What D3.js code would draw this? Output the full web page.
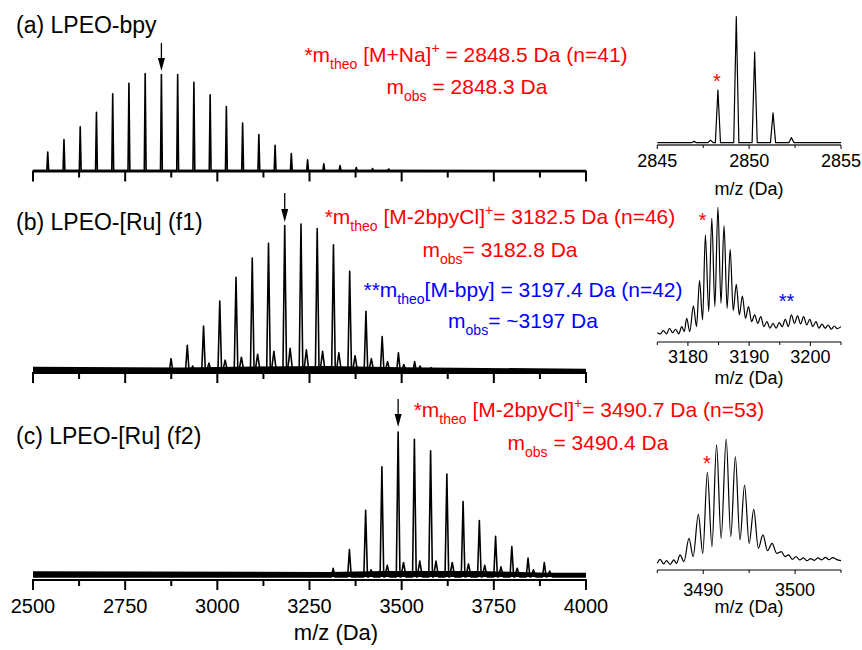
<!DOCTYPE html>
<html>
<head>
<meta charset="utf-8">
<script src="https://cdn.jsdelivr.net/npm/d3@7"></script>
<style>
  html, body { margin: 0; padding: 0; background: #fff; }
  svg text { font-family: "Liberation Sans", Arial, Helvetica, sans-serif; }
</style>
</head>
<body>
<script>
// ---------- MALDI-TOF spectra: peak lists (m/z in Da, relative intensity %) ----------

// (a) LPEO-bpy, [M+Na]+ series
const peaksA_mz  = [2540.0, 2584.0, 2628.1, 2672.1, 2716.2, 2760.2, 2804.3, 2848.3, 2892.4, 2936.4, 2980.5,
                    3024.5, 3068.6, 3112.6, 3156.7, 3200.7, 3244.8, 3288.8, 3332.9, 3376.9, 3421.0, 3465.0];
const peaksA_int = [19, 32, 45, 60, 79, 90, 100, 99, 99, 91, 78,
                    66, 49, 37, 26, 17.5, 11, 7, 5, 3, 2, 1.5];

// (b) LPEO-[Ru] (f1), [M-2bpyCl]+ series and weaker [M-bpy] series
const peaksB_mz  = [2874.5, 2918.5, 2962.6, 3006.6, 3050.7, 3094.7, 3138.8, 3182.8, 3226.9, 3270.9,
                    3315.0, 3359.0, 3403.1, 3447.1, 3491.2, 3535.2, 3579.3, 3623.3];
const peaksB_int = [9, 18, 31, 48, 64, 77, 87, 99, 100, 97,
                    86, 68, 41, 24, 13, 7, 3, 2];
const peaksB2_mz  = [2933.1, 2977.2, 3021.2, 3065.3, 3109.3, 3153.4, 3197.4, 3241.5, 3285.5, 3329.6, 3373.6, 3417.7, 3461.7, 3505.8, 3549.8];
const peaksB2_int = [4, 6, 8, 10, 12, 14, 16, 15, 14, 13, 11, 9, 7, 5, 4];

// (c) LPEO-[Ru] (f2)
const peaksC_mz  = [3314.2, 3358.3, 3402.3, 3446.4, 3490.4, 3534.5, 3578.5, 3622.6, 3666.6, 3710.7,
                    3754.7, 3798.8, 3842.8, 3886.9];
const peaksC_int = [6, 19, 46, 76, 100, 95, 87, 71, 52, 39, 28, 21, 13, 10];
const peaksC2_mz  = [3417.0, 3461.0, 3505.0, 3549.1, 3593.1, 3637.2, 3681.2, 3725.3, 3769.3, 3813.4, 3857.4, 3901.5];
const peaksC2_int = [5, 8, 10, 11, 11, 10, 9, 8, 7, 6, 5, 4];

// baseline noise envelopes (m/z, intensity %)
const noiseA = [[2500, 0.8], [3500, 0.8], [4000, 0.5]];
const noiseB = [[2500, 3.5], [2900, 3.0], [3100, 3.8], [3300, 4.0], [3500, 3.2], [4000, 2.2]];
const noiseC = [[2500, 4.0], [3300, 3.5], [3450, 4.2], [3700, 4.2], [3900, 3], [4000, 3]];

// axis ticks of the main m/z axis
const mainTicks = [2500, 2750, 3000, 3250, 3500, 3750, 4000];
const mainMinorTicks = [2625, 2875, 3125, 3375, 3625, 3875];

// zoomed isotope patterns
const insetA_pk  = [[2847.0, 1.5], [2847.9, 2.5], [2848.3, 42], [2849.3, 100], [2850.3, 72], [2851.3, 24], [2852.3, 4.5]];
const insetA_ticks = [2845, 2850, 2855];
const insetA_minor = [2847.5, 2852.5];

const insetB_trace = [
  [3175.0, 0.5], [3175.5, -0.5], [3176.0, 2.1], [3176.5, -0.5], [3177.0, 4.0], [3177.5, 0.5], [3178.0, 3.2],
  [3178.5, -0.5], [3179.0, 5.3], [3179.4, 1.3], [3179.8, 11.9], [3180.3, 1.3], [3180.9, 21.7], [3181.4, 5.3],
  [3181.9, 41.8], [3182.4, 10.6], [3182.85, 78.0], [3183.4, 17.2], [3183.9, 91.3], [3184.4, 21.2], [3184.9, 100],
  [3185.4, 23.8], [3185.9, 85.4], [3186.4, 19.8], [3186.9, 66.7], [3187.4, 18.0], [3187.9, 38.9], [3188.4, 14.6],
  [3188.9, 29.6], [3189.4, 11.9], [3189.9, 21.2], [3190.4, 9.3], [3190.9, 14.6], [3191.4, 7.9], [3191.9, 13.2],
  [3192.4, 5.3], [3192.9, 9.3], [3193.4, 4.0], [3193.9, 7.9], [3194.4, 4.0], [3194.9, 8.5], [3195.4, 5.3],
  [3195.9, 11.1], [3196.4, 5.3], [3196.9, 14.6], [3197.4, 7.9], [3197.9, 13.8], [3198.4, 7.4], [3198.9, 13.2],
  [3199.4, 6.6], [3199.9, 11.1], [3200.4, 5.3], [3200.9, 9.3], [3201.4, 4.0], [3201.9, 7.4], [3202.4, 4.0],
  [3202.9, 6.6], [3203.4, 3.2], [3203.9, 5.8], [3204.4, 3.7], [3205.0, 5.3]
];
const insetB_ticks = [3180, 3190, 3200];
const insetB_minor = [3175, 3185, 3195, 3205];

const insetC_trace = [
  [3485.0, 0], [3485.3, 3.2], [3485.7, -0.5], [3486.0, 2.1], [3486.4, -0.8], [3486.8, 2.7], [3487.1, 0],
  [3487.47, 6.7], [3487.9, 1.3], [3488.45, 20.1], [3488.9, 5.4], [3489.47, 39.4], [3489.95, 8.0],
  [3490.45, 73.2], [3490.95, 13.4], [3491.45, 95.2], [3491.95, 20.1], [3492.5, 100], [3493.0, 21.4],
  [3493.5, 85.8], [3494.0, 18.8], [3494.5, 63.0], [3495.0, 16.1], [3495.5, 43.4], [3496.0, 12.1],
  [3496.5, 22.8], [3497.0, 10.2], [3497.5, 16.1], [3498.0, 8.0], [3498.5, 9.4], [3498.9, 5.4], [3499.3, 6.7],
  [3499.7, 3.2], [3500.1, 5.4], [3500.5, 2.7], [3500.9, 4.3], [3501.3, 2.1], [3501.7, 3.8], [3502.1, 2.4],
  [3502.5, 4.3], [3502.9, 2.7], [3503.3, 4.8], [3503.7, 2.9], [3504.1, 4.6], [3504.5, 3.2], [3505.0, 2.1]
];
const insetC_ticks = [3490, 3500];
const insetC_minor = [3485, 3495, 3505];

// ---------- drawing ----------
const W = 862, H = 650;
const svg = d3.select("body").append("svg").attr("width", W).attr("height", H);

const x = d3.scaleLinear().domain([2500, 4000]).range([33, 586]);

// turn a peak list into a stick-like trace along the baseline
function spikes(mz, inten, halfWidth, extra) {
  let pk = mz.map((m, i) => [m, inten[i], halfWidth]);
  if (extra) pk = pk.concat(extra[0].map((m, i) => [m, extra[1][i], halfWidth * 1.4]));
  pk.sort((a, b) => a[0] - b[0]);
  const pts = [[2500, 0]];
  pk.forEach(([m, h, w]) => { pts.push([m - w, 0], [m, h], [m + w, 0]); });
  pts.push([4000, 0]);
  return pts;
}

function mainPanel(cfg) {
  const y = d3.scaleLinear().domain([0, 100]).range([cfg.base, cfg.base - cfg.height]);
  const g = svg.append("g");
  // noise band
  g.append("path")
    .datum(cfg.noise)
    .attr("d", d3.area().x(d => x(d[0])).y0(y(0)).y1(d => y(d[1])))
    .attr("fill", "#000");
  g.append("path")
    .datum(spikes(cfg.mz, cfg.int, cfg.hw, cfg.extra))
    .attr("d", d3.line().x(d => x(d[0])).y(d => y(d[1])))
    .attr("fill", "none").attr("stroke", "#000").attr("stroke-width", 1.6)
    .attr("stroke-linejoin", "round");
  // axis
  const ax = g.append("g").attr("transform", `translate(0,${cfg.axisY})`);
  ax.append("line").attr("x1", x(2500) - 1).attr("x2", x(4000) + 1)
    .attr("stroke", "#000").attr("stroke-width", 2);
  ax.selectAll("line.maj").data(mainTicks).join("line").attr("class", "maj")
    .attr("x1", d => x(d)).attr("x2", d => x(d)).attr("y1", 0).attr("y2", 10)
    .attr("stroke", "#000").attr("stroke-width", 2);
  ax.selectAll("line.min").data(mainMinorTicks).join("line").attr("class", "min")
    .attr("x1", d => x(d)).attr("x2", d => x(d)).attr("y1", 0).attr("y2", 6)
    .attr("stroke", "#000").attr("stroke-width", 2);
  if (cfg.labels) {
    ax.selectAll("text").data(mainTicks).join("text")
      .attr("x", d => x(d)).attr("y", 33)
      .attr("text-anchor", "middle").attr("font-size", 20).text(d => d);
  }
  // arrow pointing at the assigned peak
  const ax0 = x(cfg.arrow);
  g.append("line").attr("x1", ax0).attr("x2", ax0).attr("y1", cfg.arrowTop).attr("y2", cfg.arrowTip - 8)
    .attr("stroke", "#000").attr("stroke-width", 1.3);
  g.append("path")
    .attr("d", `M${ax0 - 3.5},${cfg.arrowTip - 13} L${ax0 + 3.5},${cfg.arrowTip - 13} L${ax0},${cfg.arrowTip} Z`)
    .attr("fill", "#000");
  // title
  g.append("text").attr("x", 16).attr("y", cfg.titleY).attr("font-size", 23).text(cfg.title);
}

mainPanel({ title: "(a) LPEO-bpy", titleY: 33, mz: peaksA_mz, int: peaksA_int, hw: 2.5,
  noise: noiseA, base: 170.5, height: 97, axisY: 171.5, arrow: 2848.3, arrowTop: 43, arrowTip: 71 });
mainPanel({ title: "(b) LPEO-[Ru] (f1)", titleY: 230, mz: peaksB_mz, int: peaksB_int, hw: 5,
  extra: [peaksB2_mz, peaksB2_int], noise: noiseB, base: 372, height: 148, axisY: 373,
  arrow: 3182.8, arrowTop: 193, arrowTip: 222 });
mainPanel({ title: "(c) LPEO-[Ru] (f2)", titleY: 444, mz: peaksC_mz, int: peaksC_int, hw: 5,
  extra: [peaksC2_mz, peaksC2_int], noise: noiseC, base: 577, height: 145, axisY: 580,
  arrow: 3490.4, arrowTop: 399, arrowTip: 427, labels: true });

svg.append("text").attr("x", 336).attr("y", 640).attr("text-anchor", "middle")
  .attr("font-size", 22).text("m/z (Da)");

// rich text with sub/superscripts
function rich(cx, cy, parts, color) {
  const t = svg.append("text").attr("x", cx).attr("y", cy).attr("text-anchor", "middle")
    .attr("fill", color).attr("font-size", 21);
  let shift = 0;
  parts.forEach(p => {
    const target = p.sub ? 7 : p.sup ? -9 : 0;
    const ts = t.append("tspan").attr("dy", target - shift).text(p.t);
    if (p.sub || p.sup) ts.attr("font-size", 14);
    shift = target;
  });
}

const RED = "#ff0000", BLUE = "#0000ff";
rich(466, 62, [{ t: "*m" }, { t: "theo", sub: true }, { t: " [M+Na]" }, { t: "+", sup: true }, { t: " = 2848.5 Da (n=41)" }], RED);
rich(467, 94, [{ t: "m" }, { t: "obs", sub: true }, { t: " = 2848.3 Da" }], RED);
rich(500, 224, [{ t: "*m" }, { t: "theo", sub: true }, { t: " [M-2bpyCl]" }, { t: "+", sup: true }, { t: "= 3182.5 Da (n=46)" }], RED);
rich(500, 257, [{ t: "m" }, { t: "obs", sub: true }, { t: "= 3182.8 Da" }], RED);
rich(523, 297, [{ t: "**m" }, { t: "theo", sub: true }, { t: "[M-bpy] = 3197.4 Da (n=42)" }], BLUE);
rich(523, 328, [{ t: "m" }, { t: "obs", sub: true }, { t: "= ~3197 Da" }], BLUE);
rich(589, 417, [{ t: "*m" }, { t: "theo", sub: true }, { t: " [M-2bpyCl]" }, { t: "+", sup: true }, { t: "= 3490.7 Da (n=53)" }], RED);
rich(588, 450, [{ t: "m" }, { t: "obs", sub: true }, { t: " = 3490.4 Da" }], RED);

// ---------- insets ----------
function inset(cfg) {
  const xs = d3.scaleLinear().domain(cfg.domain).range([657.3, 841]);
  const ys = d3.scaleLinear().domain([0, 100]).range([cfg.base, cfg.base - cfg.height]);
  const g = svg.append("g");
  g.append("path").datum(cfg.trace)
    .attr("d", d3.line().x(d => xs(d[0])).y(d => ys(d[1])).curve(cfg.curve || d3.curveLinear))
    .attr("fill", "none").attr("stroke", "#000").attr("stroke-width", 1.2).attr("stroke-linejoin", "round");
  const ax = g.append("g").attr("transform", `translate(0,${cfg.axisY})`);
  ax.append("line").attr("x1", 657.3).attr("x2", 841).attr("stroke", cfg.axisColor || "#000").attr("stroke-width", cfg.axisW || 1);
  ax.selectAll("line.t").data(cfg.ticks.concat(cfg.minor)).join("line").attr("class", "t")
    .attr("x1", d => xs(d)).attr("x2", d => xs(d)).attr("y1", 0).attr("y2", d => cfg.ticks.includes(d) ? 4 : 3)
    .attr("stroke", "#000").attr("stroke-width", 1);
  ax.selectAll("text").data(cfg.ticks).join("text")
    .attr("x", d => xs(d)).attr("y", cfg.labelDy).attr("text-anchor", "middle").attr("font-size", 18).text(d => d);
  g.append("text").attr("x", 749).attr("y", cfg.axisY + cfg.titleDy).attr("text-anchor", "middle")
    .attr("font-size", 18).text("m/z (Da)");
  cfg.marks.forEach(mk => {
    g.append("text").attr("x", xs(mk.mz)).attr("y", ys(mk.at)).attr("text-anchor", "middle")
      .attr("fill", mk.color).attr("font-size", 20).text(mk.t);
  });
}

// inset (a): narrow isotope peaks on a flat baseline
const insetA_trace = [[2845, 0.5]];
insetA_pk.forEach(([m, h]) => { insetA_trace.push([m - 0.14, 0.5], [m, h], [m + 0.14, 0.5]); });
insetA_trace.push([2855, 0.5]);

inset({ domain: [2845, 2855], trace: insetA_trace, base: 143.3, height: 126.6, axisY: 145,
  axisColor: "#666", axisW: 2, ticks: insetA_ticks, minor: insetA_minor, labelDy: 22, titleDy: 50,
  marks: [{ mz: 2848.25, at: 44, t: "*", color: RED }] });
inset({ domain: [3175, 3205], trace: insetB_trace, base: 333.3, height: 126, axisY: 342,
  ticks: insetB_ticks, minor: insetB_minor, labelDy: 21, titleDy: 42, curve: d3.curveMonotoneX,
  marks: [{ mz: 3182.4, at: 84, t: "*", color: RED }, { mz: 3196.1, at: 20, t: "**", color: BLUE }] });
inset({ domain: [3485, 3505], trace: insetC_trace, base: 563.3, height: 124.3, axisY: 570,
  ticks: insetC_ticks, minor: insetC_minor, labelDy: 26, titleDy: 43, curve: d3.curveMonotoneX,
  marks: [{ mz: 3490.4, at: 75, t: "*", color: RED }] });
</script>
</body>
</html>
